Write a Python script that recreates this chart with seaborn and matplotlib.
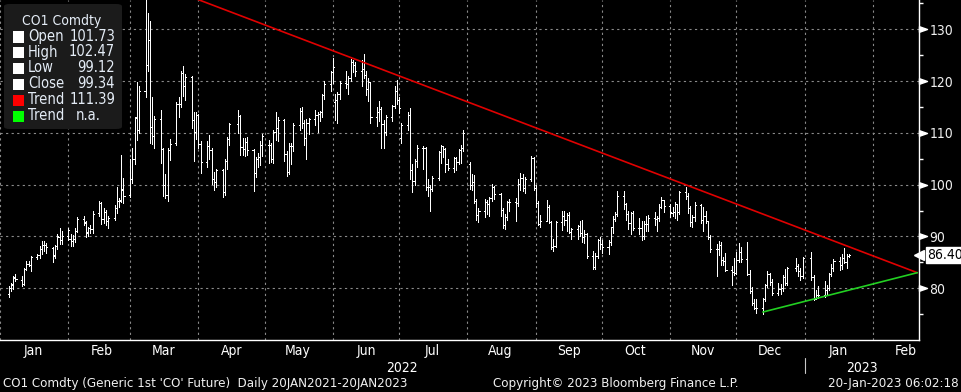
import numpy as np
import pandas as pd
import seaborn as sns
import matplotlib.pyplot as plt
import matplotlib.dates as mdates
from matplotlib.path import Path
from matplotlib.patches import FancyBboxPatch, Rectangle

# CO1 Comdty daily bars 04-Jan-2022 .. 20-Jan-2023, one line per month
holidays = ['2022-04-15', '2022-12-26', '2023-01-02']

opens = [
    78.9, 80.0, 80.6, 82.1, 81.6, 80.9, 83.8, 84.6, 84.4, 86.1, 86.5, 87.6, 88.3, 88.4, 87.8, 86.4, 88.2, 89.9, 89.4, 90.0,
    89.5, 89.2, 89.6, 91.1, 93.3, 92.5, 90.6, 91.6, 91.4, 94.5, 96.4, 93.3, 94.7, 93.0, 93.5, 95.4, 96.8, 97.0, 99.0, 98.0,
    101.0, 105.0, 113.0, 110.5, 118.1, 123.2, 128.0, 111.1, 109.3, 112.7, 106.9, 99.9, 98.0, 106.6, 108.0, 115.6, 115.5, 121.6, 119.0, 120.7, 112.5, 110.2, 113.5,
    107.9, 104.4, 107.5, 106.6, 101.1, 100.6, 102.8, 98.5, 104.6, 108.8, 111.7, 113.2, 107.3, 106.8, 108.3, 106.7, 102.3, 105.0, 105.3, 107.6,
    107.6, 107.6, 105.0, 110.1, 111.0, 112.4, 105.9, 102.5, 107.5, 107.5, 111.6, 114.2, 111.9, 109.1, 112.0, 112.6, 113.4, 113.6, 114.0, 117.4, 119.4, 121.7,
    116.0, 116.3, 117.6, 119.7, 119.5, 120.6, 123.6, 123.1, 122.0, 122.3, 121.2, 118.5, 119.8, 113.1, 114.1, 114.7, 111.7, 110.1, 113.1, 115.1, 118.0, 116.3,
    109.0, 111.6, 113.5, 102.8, 100.7, 104.6, 107.0, 107.1, 99.5, 99.6, 99.1, 101.2, 106.3, 107.4, 106.9, 103.9, 103.2, 105.2, 104.4, 106.6, 107.1,
    103.9, 100.0, 100.5, 96.8, 94.1, 94.9, 96.7, 96.3, 97.4, 99.6, 98.2, 95.1, 92.3, 93.7, 96.6, 96.7, 96.5, 100.2, 101.2, 99.3, 101.0, 105.1, 99.3,
    96.5, 92.4, 93.0, 95.7, 92.8, 88.0, 88.2, 92.8, 94.0, 93.2, 94.1, 90.8, 91.4, 92.0, 90.6, 89.8, 90.5, 86.2, 84.1, 86.3, 89.3, 88.5,
    88.0, 88.9, 91.8, 93.4, 94.4, 97.9, 96.2, 94.3, 92.5, 94.6, 91.6, 91.6, 90.0, 92.4, 92.4, 93.5, 93.3, 93.5, 95.7, 97.0, 95.8,
    94.6, 94.7, 96.2, 94.7, 98.6, 97.9, 95.4, 92.7, 93.7, 96.0, 93.1, 93.9, 92.9, 89.8, 87.6, 87.5, 88.4, 85.4, 85.3, 83.6, 83.2, 83.0,
    85.4, 86.9, 85.6, 82.7, 79.4, 77.2, 76.2, 76.1, 78.0, 80.7, 82.7, 81.2, 79.0, 79.8, 80.0, 82.2, 81.0, 83.9, 84.3, 83.3, 82.3,
    85.9, 82.1, 77.9, 78.7, 78.6, 79.7, 80.1, 82.7, 84.0, 85.3, 84.5, 85.9, 85.0, 86.2,
]
highs = [
    80.5, 81.1, 82.4, 82.7, 82.3, 83.9, 85.2, 85.2, 86.2, 86.7, 88.1, 89.2, 89.1, 88.8, 88.0, 88.4, 90.5, 91.7, 91.0, 91.7,
    90.4, 90.2, 91.7, 93.7, 94.0, 92.9, 91.8, 92.2, 95.0, 96.8, 96.7, 95.5, 95.2, 93.9, 96.0, 99.5, 97.5, 105.8, 101.3, 105.0,
    107.0, 113.0, 119.8, 119.0, 139.1, 133.2, 131.6, 117.0, 113.3, 114.5, 107.0, 102.0, 107.1, 108.9, 116.0, 117.0, 122.0, 123.0, 121.4, 120.9, 114.0, 114.0, 113.6,
    108.4, 108.5, 109.5, 107.0, 102.5, 103.1, 103.0, 105.0, 109.2, 111.9, 114.5, 113.5, 109.0, 109.0, 109.2, 106.9, 105.3, 106.2, 108.5, 109.8,
    108.6, 108.0, 110.5, 114.0, 113.0, 112.7, 106.5, 108.0, 108.0, 112.0, 114.8, 115.0, 112.5, 112.6, 112.8, 114.5, 114.0, 114.3, 117.6, 120.0, 121.9, 124.5,
    117.5, 117.9, 120.0, 121.9, 121.0, 124.2, 124.0, 123.6, 124.0, 125.3, 121.9, 120.6, 119.9, 115.0, 116.2, 115.0, 112.4, 113.5, 115.3, 119.0, 120.3, 116.9,
    112.0, 114.0, 114.8, 104.0, 105.0, 107.6, 107.4, 107.2, 101.0, 100.0, 101.6, 106.5, 107.6, 107.5, 107.0, 105.0, 105.3, 105.4, 106.9, 107.7, 110.6,
    104.4, 102.0, 101.9, 97.2, 95.5, 97.3, 97.0, 97.6, 100.1, 99.8, 98.4, 95.4, 94.3, 96.9, 97.2, 97.4, 101.0, 102.2, 102.0, 101.5, 105.6, 105.3, 99.9,
    96.9, 94.1, 97.0, 96.0, 93.0, 89.5, 93.0, 95.0, 95.0, 94.6, 94.8, 91.7, 92.3, 93.0, 93.2, 91.3, 90.6, 87.2, 86.8, 89.6, 89.9, 89.4,
    89.4, 91.9, 93.9, 94.8, 98.7, 98.8, 96.4, 94.9, 94.8, 95.0, 93.5, 92.9, 93.0, 94.0, 94.1, 94.8, 94.0, 96.2, 97.7, 97.1, 96.3,
    95.7, 96.6, 96.3, 98.8, 99.6, 98.3, 95.9, 94.2, 96.6, 96.3, 95.7, 95.0, 93.0, 90.2, 88.5, 89.2, 88.9, 86.0, 86.8, 84.3, 85.8, 87.0,
    88.7, 87.9, 88.9, 83.5, 80.2, 77.9, 78.0, 78.1, 80.9, 83.3, 83.0, 81.7, 81.0, 80.9, 82.6, 83.7, 84.1, 85.8, 84.6, 84.0, 86.0,
    87.0, 82.6, 79.7, 80.4, 81.4, 80.7, 82.9, 84.7, 85.6, 86.1, 86.7, 87.8, 86.6, 86.6,
]
lows = [
    78.3, 79.4, 79.8, 81.3, 80.4, 80.6, 83.5, 84.2, 83.3, 85.6, 85.9, 86.6, 87.2, 86.8, 85.0, 85.8, 87.6, 88.6, 88.6, 89.4,
    88.2, 88.2, 88.9, 90.9, 92.3, 89.9, 90.0, 90.6, 90.6, 94.0, 92.4, 92.5, 92.3, 91.7, 93.2, 94.5, 95.7, 96.7, 96.5, 97.6,
    100.3, 104.0, 108.7, 110.0, 117.0, 122.0, 108.0, 107.8, 107.0, 104.2, 97.8, 97.4, 96.9, 104.8, 107.7, 113.0, 115.0, 117.1, 116.4, 111.0, 104.5, 108.8, 107.0,
    102.3, 103.5, 105.0, 100.2, 98.9, 99.5, 97.6, 98.0, 103.0, 107.7, 110.0, 105.8, 105.8, 105.5, 105.8, 98.7, 101.5, 103.5, 103.8, 105.5,
    104.2, 104.4, 104.2, 108.7, 108.5, 104.6, 101.7, 102.0, 104.0, 106.5, 110.5, 111.0, 107.6, 104.9, 109.8, 111.5, 110.2, 112.3, 113.0, 116.6, 118.0, 119.7,
    112.5, 111.9, 116.6, 118.7, 117.5, 120.0, 121.7, 120.9, 119.0, 120.6, 117.3, 116.2, 111.9, 111.3, 112.3, 107.0, 107.0, 109.6, 112.3, 114.8, 115.5, 113.9,
    108.0, 110.5, 101.0, 98.5, 100.0, 103.5, 103.0, 99.0, 97.9, 95.0, 98.8, 100.9, 104.2, 105.4, 102.5, 102.8, 102.5, 102.9, 104.0, 104.2, 106.5,
    99.1, 99.0, 96.4, 93.2, 92.8, 93.8, 94.4, 94.0, 96.9, 97.3, 93.9, 91.6, 91.5, 93.2, 95.0, 92.9, 95.9, 99.0, 98.8, 98.4, 100.8, 98.9, 95.7,
    92.2, 91.9, 92.9, 92.5, 87.5, 87.2, 88.0, 91.3, 92.2, 91.1, 90.7, 89.6, 89.6, 90.0, 88.9, 88.8, 85.9, 83.7, 83.7, 85.8, 87.5, 86.8,
    86.6, 88.4, 90.7, 92.9, 94.0, 95.3, 93.1, 91.5, 90.4, 91.2, 90.5, 89.3, 89.6, 91.0, 91.1, 92.3, 91.0, 93.0, 95.4, 94.8, 93.7,
    93.9, 93.5, 93.1, 94.4, 97.2, 94.6, 92.1, 91.8, 93.0, 92.6, 91.0, 92.5, 89.6, 86.9, 82.3, 86.5, 84.5, 84.5, 83.4, 80.6, 82.6, 82.7,
    85.0, 85.0, 82.5, 79.0, 76.7, 75.9, 75.2, 75.1, 77.5, 80.2, 80.6, 78.6, 78.6, 78.8, 79.5, 80.6, 80.7, 83.4, 82.4, 81.5, 81.9,
    81.5, 77.8, 77.9, 78.1, 78.4, 78.8, 79.6, 82.3, 83.3, 83.6, 83.8, 84.9, 83.9, 86.0,
]
closes = [
    80.0, 80.8, 82.0, 81.8, 80.9, 83.7, 84.7, 84.5, 86.1, 86.5, 87.5, 88.4, 88.4, 87.9, 86.3, 88.2, 90.0, 89.3, 90.0, 91.2,
    89.2, 89.5, 91.1, 93.3, 92.7, 90.8, 91.6, 91.4, 94.4, 96.5, 93.3, 94.8, 93.0, 93.5, 95.4, 96.8, 96.8, 99.1, 97.9, 101.0,
    105.0, 112.9, 110.5, 118.1, 123.2, 128.0, 111.1, 109.3, 112.7, 106.9, 99.9, 98.0, 106.6, 107.9, 115.6, 115.5, 121.6, 119.0, 120.7, 112.5, 110.2, 113.5, 107.9,
    104.4, 107.5, 106.6, 101.1, 100.6, 102.8, 98.5, 104.6, 108.8, 111.7, 113.2, 107.3, 106.8, 108.3, 106.7, 102.3, 105.0, 105.3, 107.6, 109.3,
    107.6, 105.0, 110.1, 111.0, 112.4, 105.9, 102.5, 107.5, 107.5, 111.6, 114.2, 111.9, 109.1, 112.0, 112.6, 113.4, 113.6, 114.0, 117.4, 119.4, 121.7, 122.8,
    116.3, 117.6, 119.7, 119.5, 120.6, 123.6, 123.1, 122.0, 122.3, 121.2, 118.5, 119.8, 113.1, 114.1, 114.7, 111.7, 110.1, 113.1, 115.1, 118.0, 116.3, 114.8,
    111.6, 113.5, 102.8, 100.7, 104.6, 107.0, 107.1, 99.5, 99.6, 99.1, 101.2, 106.3, 107.4, 106.9, 103.9, 103.2, 105.2, 104.4, 106.6, 107.1, 110.0,
    100.0, 100.5, 96.8, 94.1, 94.9, 96.7, 96.3, 97.4, 99.6, 98.2, 95.1, 92.3, 93.7, 96.6, 96.7, 96.5, 100.2, 101.2, 99.3, 101.0, 105.1, 99.3, 96.5,
    92.4, 93.0, 95.7, 92.8, 88.0, 88.2, 92.8, 94.0, 93.2, 94.1, 90.8, 91.4, 92.0, 90.6, 89.8, 90.5, 86.2, 84.1, 86.3, 89.3, 88.5, 88.0,
    88.9, 91.8, 93.4, 94.4, 97.9, 96.2, 94.3, 92.5, 94.6, 91.6, 91.6, 90.0, 92.4, 92.4, 93.5, 93.3, 93.5, 95.7, 97.0, 95.8, 94.8,
    94.7, 96.2, 94.7, 98.6, 97.9, 95.4, 92.7, 93.7, 96.0, 93.1, 93.9, 92.9, 89.8, 87.6, 87.5, 88.4, 85.4, 85.3, 83.6, 83.2, 83.0, 85.4,
    86.9, 85.6, 82.7, 79.4, 77.2, 76.2, 76.1, 78.0, 80.7, 82.7, 81.2, 79.0, 79.8, 80.0, 82.2, 81.0, 83.9, 84.3, 83.3, 82.3, 85.9,
    82.1, 77.9, 78.7, 78.6, 79.7, 80.1, 82.7, 84.0, 85.3, 84.5, 85.9, 85.0, 86.2, 86.4,
]

# hand-drawn trend lines (date, price at each end)
red_trend_dates = ['2022-03-08', '2023-02-21']
red_trend_vals = [139.6, 83.0]
green_trend_dates = ['2022-12-13', '2023-02-21']
green_trend_vals = [75.4, 83.0]

month_names = ['Jan', 'Feb', 'Mar', 'Apr', 'May', 'Jun', 'Jul', 'Aug', 'Sep', 'Oct', 'Nov', 'Dec', 'Jan', 'Feb']
y_ticks = [80, 90, 100, 110, 120, 130]
y_minor = [75, 85, 95, 105, 115, 125, 135]
last_price = 86.40

legend_labels = ['Open', 'High', 'Low', 'Close', 'Trend', 'Trend']
legend_values = ['101.73', '102.47', '99.12', '99.34', '111.39', 'n.a.']
legend_colors = ['white', 'white', 'white', 'white', '#ff0000', '#00ff00']

# ---------------------------------------------------------------
days = pd.bdate_range('2022-01-04', '2023-01-20')
days = days[~days.isin(pd.to_datetime(holidays))]
df = pd.DataFrame({'date': days, 'open': opens, 'high': highs, 'low': lows, 'close': closes})
# Bloomberg draws each daily bar at the end of its session
df['x'] = mdates.date2num(df['date']) + 1.0

sns.set_theme(style='dark', rc={'figure.facecolor': 'black', 'axes.facecolor': 'black',
                                'axes.edgecolor': 'white', 'text.color': '#f0f0f0',
                                'xtick.color': 'white', 'ytick.color': 'white'})
plt.rcParams['font.family'] = ['DejaVu Sans']
plt.rcParams['font.stretch'] = 'condensed'

W, H = 962, 392
fig = plt.figure(figsize=(W / 100, H / 100), dpi=100)
ax = fig.add_axes([0, 52 / H, 919 / W, 340 / H])

def fx(x):
    return x / W

def fy(y):
    return 1 - y / H

# OHLC bars, thin crisp lines like the terminal
bar_kw = dict(color='white', lw=0.6, zorder=3, antialiased=False)
tick = 0.5  # open/close tick length in days
ax.vlines(df['x'], df['low'], df['high'], **bar_kw)
ax.hlines(df['open'], df['x'] - tick, df['x'], **bar_kw)
ax.hlines(df['close'], df['x'], df['x'] + tick, **bar_kw)

# trend lines
red = pd.DataFrame({'x': mdates.date2num(pd.to_datetime(red_trend_dates)), 'price': red_trend_vals})
green = pd.DataFrame({'x': mdates.date2num(pd.to_datetime(green_trend_dates)), 'price': green_trend_vals})
sns.lineplot(data=red, x='x', y='price', color='#e00000', lw=1.2, ax=ax, zorder=4)
sns.lineplot(data=green, x='x', y='price', color='#22d022', lw=1.2, ax=ax, zorder=4)

ax.set_xlim(mdates.date2num(pd.Timestamp('2022-01-04 17:00')),
            mdates.date2num(pd.Timestamp('2023-02-21 19:00')))
ax.set_ylim(70.0, 135.66)
ax.set_xlabel('')
ax.set_ylabel('')

# x axis: gridlines at month starts, labels mid-month
month_starts = pd.date_range('2022-01-01', '2023-02-01', freq='MS')
mid_months = month_starts + pd.Timedelta(days=15)
ax.set_xticks(mdates.date2num(month_starts))
ax.set_xticklabels([])
ax.set_xticks(mdates.date2num(mid_months), minor=True)
ax.set_xticklabels(month_names, minor=True)
ax.tick_params(axis='x', which='both', length=0, pad=3, labelsize=10, labelcolor='white')

# y axis on the right
ax.yaxis.tick_right()
ax.set_yticks(y_ticks)
ax.set_yticklabels([str(v) for v in y_ticks])
ax.set_yticks(y_minor, minor=True)
ax.tick_params(axis='y', which='major', length=0, pad=7.5, labelsize=10, labelcolor='#f0f0f0')
ax.tick_params(axis='y', which='minor', length=3, width=1, direction='out', color='white')

tri = Path([(0, -0.35), (1, 0), (0, 0.35), (0, -0.35)],
           [Path.MOVETO, Path.LINETO, Path.LINETO, Path.CLOSEPOLY])
ax.plot(np.ones(len(y_ticks)), y_ticks, ls='none', marker=tri, ms=11.5, color='white',
        transform=ax.get_yaxis_transform(), clip_on=False, zorder=5)

ax.grid(True, which='major', axis='both', color='#8a8a8a', ls=(0, (2, 3)), lw=0.8)
for side in ['top', 'left']:
    ax.spines[side].set_visible(False)
for side in ['right', 'bottom']:
    ax.spines[side].set_color('white')
    ax.spines[side].set_linewidth(1.0)

# last price tag
ax.plot([1.0], [last_price], ls='none', marker='<', ms=7, color='white',
        transform=ax.get_yaxis_transform(), clip_on=False, zorder=6)
ax.annotate(f'{last_price:.2f}', xy=(1, last_price), xycoords=ax.get_yaxis_transform(),
            xytext=(6.0, 0), textcoords='offset points', ha='left', va='center',
            color='black', fontsize=10, annotation_clip=False, zorder=6,
            bbox=dict(boxstyle='square,pad=0.1', fc='white', ec='white'))

# year labels centred in the visible span of each year
x0, x1 = ax.get_xlim()
jan23 = mdates.date2num(pd.Timestamp('2023-01-01'))
ax.text((x0 + jan23) / 2, -28 / 340, '2022', transform=ax.get_xaxis_transform(),
        ha='center', va='center', fontsize=10, color='white')
ax.text((jan23 + x1) / 2, -28 / 340, '2023', transform=ax.get_xaxis_transform(),
        ha='center', va='center', fontsize=10, color='white')
ax.plot([jan23, jan23], [-18 / 340, -33 / 340], transform=ax.get_xaxis_transform(),
        clip_on=False, color='#c8c8c8', lw=0.8)

# legend panel
fig.add_artist(FancyBboxPatch((fx(4), fy(129)), 118 / W, 125 / H,
                              boxstyle='round,pad=0,rounding_size=0.006',
                              transform=fig.transFigure, fc='#1b1b1b', ec='none', zorder=8))
fig.text(fx(62), fy(21), 'CO1 Comdty', ha='center', va='center', fontsize=10,
         color='#e4ecf6', zorder=9)
row_y = [36.5, 52, 68, 84, 100, 116]
for lab, val, col, yy in zip(legend_labels, legend_values, legend_colors, row_y):
    fig.add_artist(Rectangle((fx(12.5), fy(yy + 6)), 11.5 / W, 11.5 / H,
                             transform=fig.transFigure, fc=col, ec='none', zorder=9))
    fig.text(fx(28), fy(yy), lab, ha='left', va='center', fontsize=10.5, color='#e4ecf6', zorder=9)
    if val == 'n.a.':
        fig.text(fx(76), fy(yy), val, ha='left', va='center', fontsize=10.5, color='#e4ecf6', zorder=9)
    else:
        fig.text(fx(115), fy(yy), val, ha='right', va='center', fontsize=10.5, color='#e4ecf6', zorder=9)

# footer
fig.text(fx(3), fy(384), "CO1 Comdty (Generic 1st 'CO' Future)  Daily 20JAN2021-20JAN2023",
         ha='left', va='center', fontsize=9.5, color='#f0f0f0')
fig.text(fx(616), fy(384), 'Copyright\u00a9 2023 Bloomberg Finance L.P.',
         ha='center', va='center', fontsize=9.5, color='#f0f0f0')
fig.text(fx(959), fy(384), '20-Jan-2023 06:02:18', ha='right', va='center',
         fontsize=9.5, color='#f0f0f0')

fig.savefig('out.png', dpi=100, facecolor='black')
